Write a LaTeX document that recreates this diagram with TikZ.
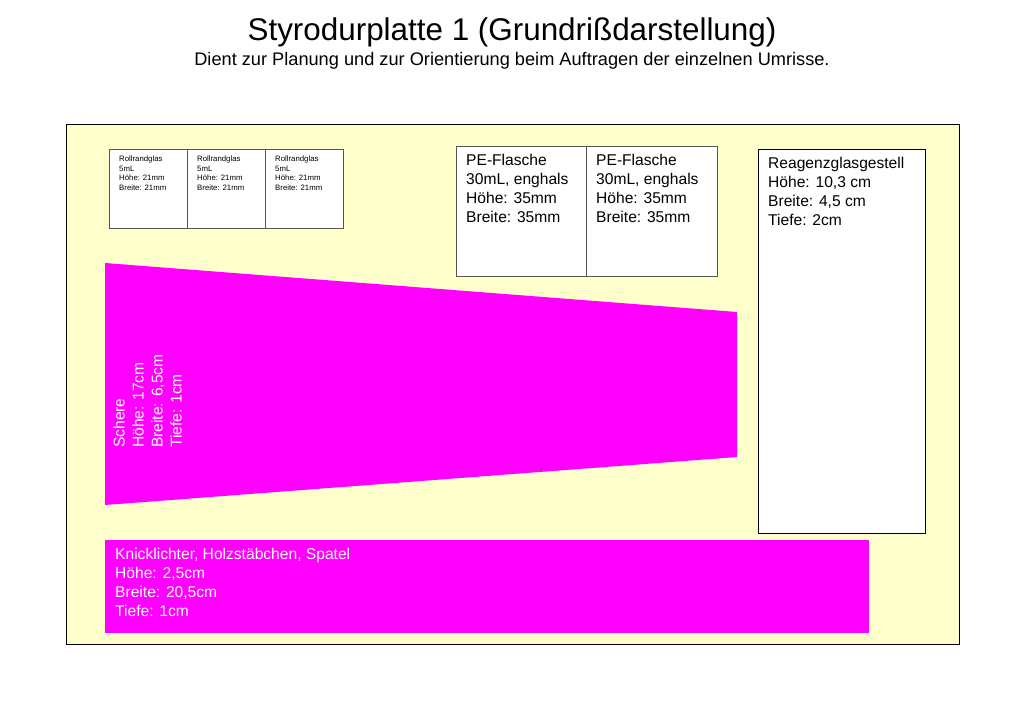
\documentclass[tikz,border=0pt]{standalone}
\usepackage{fontspec}
\setmainfont{Liberation Sans}
\definecolor{board}{HTML}{FFFFCC}
\definecolor{mag}{HTML}{FF00FF}
\definecolor{boxline}{HTML}{555555}
\begin{document}
\begin{tikzpicture}[x=1pt,y=-1pt,
  item/.style={draw=boxline,fill=white,line width=0.8pt},
  txt/.style={anchor=north west,align=left,inner sep=0pt,font=\fontsize{15.6}{19}\selectfont},
  tiny/.style={anchor=north west,align=left,inner sep=0pt,font=\fontsize{7.8}{9.4}\selectfont},
  magtxt/.style={txt,text=white}]
\useasboundingbox (0,0) rectangle (1024,709);
\node[font=\fontsize{31.4}{36}\selectfont] (title) at (512,32) {Styrodurplatte 1 (Grundrißdarstellung)};
\node[font=\fontsize{18.2}{22}\selectfont] (sub) at (512,61) {Dient zur Planung und zur Orientierung beim Auftragen der einzelnen Umrisse.};
\draw[fill=board,line width=1pt] (66,124) rectangle (959,644);
% Rollrandglas
\draw[item] (109,149) rectangle (343,228);
\draw[boxline,line width=0.8pt] (187,149) -- (187,228) (265,149) -- (265,228);
\node[tiny] (r1) at (119,156) {Rollrandglas\\5mL\\Höhe: 21mm\\Breite: 21mm};
\node[tiny] (r2) at (197,156) {Rollrandglas\\5mL\\Höhe: 21mm\\Breite: 21mm};
\node[tiny] (r3) at (275,156) {Rollrandglas\\5mL\\Höhe: 21mm\\Breite: 21mm};
% PE-Flasche
\draw[item] (456,146) rectangle (717,276);
\draw[boxline,line width=0.8pt] (586,146) -- (586,276);
\node[txt] (p1) at (466,154) {PE-Flasche\\30mL, enghals\\Höhe: 35mm\\Breite: 35mm};
\node[txt] (p2) at (596,154) {PE-Flasche\\30mL, enghals\\Höhe: 35mm\\Breite: 35mm};
% Reagenzglasgestell
\draw[item,draw=black] (758,149) rectangle (925,533);
\node[txt] (rg) at (768,157) {Reagenzglasgestell\\Höhe: 10,3 cm\\Breite: 4,5 cm\\Tiefe: 2cm};
% Schere
\fill[mag] (105,263) -- (737,312) -- (737,457) -- (105,505) -- cycle;
\node[magtxt,rotate=90] (sch) at (113,448) {Schere\\Höhe: 17cm\\Breite: 6,5cm\\Tiefe: 1cm};
% Knicklichter
\fill[mag] (105,540) rectangle (869,633);
\node[magtxt] (kn) at (115,548) {Knicklichter, Holzstäbchen, Spatel\\Höhe: 2,5cm\\Breite: 20,5cm\\Tiefe: 1cm};
\end{tikzpicture}
\end{document}
